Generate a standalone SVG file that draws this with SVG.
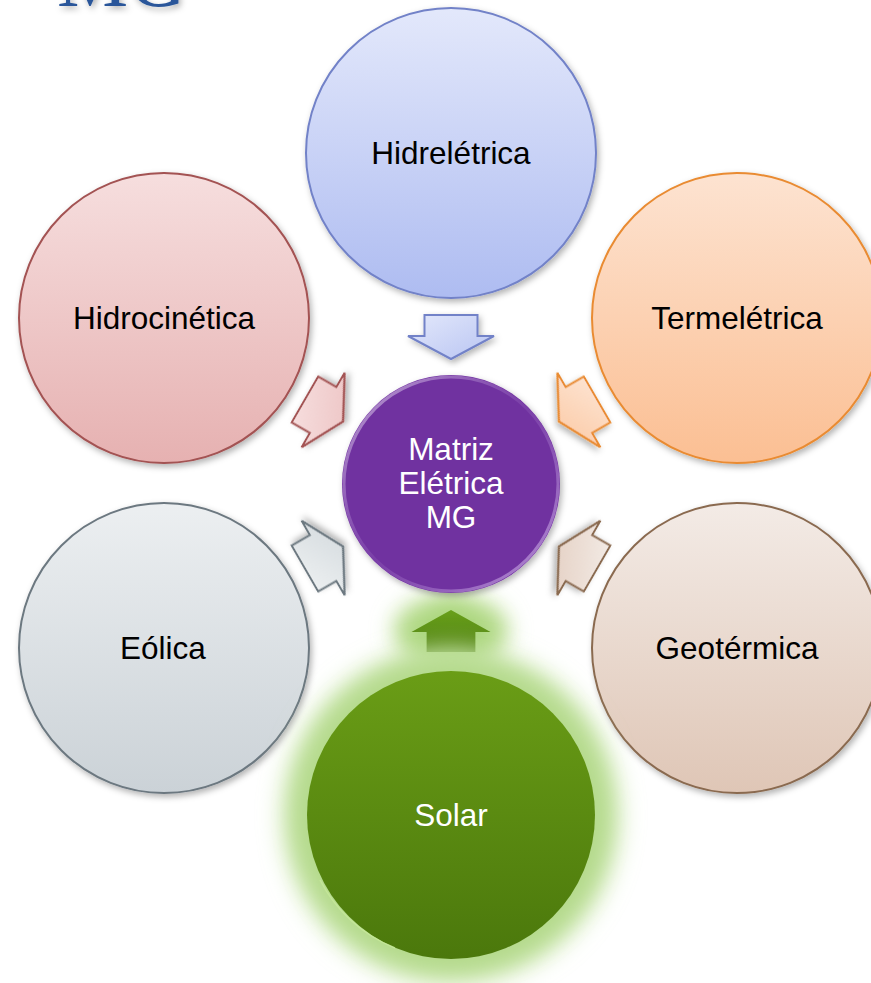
<svg xmlns="http://www.w3.org/2000/svg" width="871" height="983" viewBox="0 0 871 983">
<style>
.lbl{font-family:"Liberation Sans",Arial,sans-serif;font-size:31.5px;text-anchor:middle;fill:#000}
.wlbl{font-family:"Liberation Sans",Arial,sans-serif;font-size:31.5px;text-anchor:middle;fill:#fff}
.ring{stroke-width:2}
</style>
<defs>
<filter id="sh" x="-20%" y="-20%" width="140%" height="140%"><feDropShadow dx="2" dy="3" stdDeviation="3" flood-color="#000" flood-opacity="0.3"/></filter>
<filter id="glow" x="-50%" y="-50%" width="200%" height="200%"><feGaussianBlur stdDeviation="12"/></filter>
<filter id="glowA" x="-100%" y="-100%" width="300%" height="300%"><feGaussianBlur stdDeviation="11"/></filter>
<linearGradient id="gBlue" x1="0" y1="0" x2="0" y2="1"><stop offset="0" stop-color="#e3e8fb"/><stop offset="1" stop-color="#aebcf1"/></linearGradient>
<linearGradient id="gPink" x1="0" y1="0" x2="0" y2="1"><stop offset="0" stop-color="#f6dede"/><stop offset="1" stop-color="#e6b1b1"/></linearGradient>
<linearGradient id="gOrange" x1="0" y1="0" x2="0" y2="1"><stop offset="0" stop-color="#fde3d1"/><stop offset="1" stop-color="#fbbf93"/></linearGradient>
<linearGradient id="gGray" x1="0" y1="0" x2="0" y2="1"><stop offset="0" stop-color="#eceff1"/><stop offset="1" stop-color="#cbd2d7"/></linearGradient>
<linearGradient id="gBeige" x1="0" y1="0" x2="0" y2="1"><stop offset="0" stop-color="#f3ebe6"/><stop offset="1" stop-color="#dfc6b6"/></linearGradient>
<linearGradient id="gGreen" x1="0" y1="0" x2="0" y2="1"><stop offset="0" stop-color="#6a9d16"/><stop offset="1" stop-color="#4b780c"/></linearGradient>
<linearGradient id="gArrGreen" x1="0" y1="0" x2="0" y2="1"><stop offset="0" stop-color="#4d7d0e"/><stop offset="1" stop-color="#68a01a"/></linearGradient>
<linearGradient id="aBlue" x1="0" y1="0" x2="1" y2="1"><stop offset="0" stop-color="#e3e8fb"/><stop offset="1" stop-color="#b8c4f2"/></linearGradient>
<linearGradient id="aPink" x1="0" y1="0" x2="1" y2="1"><stop offset="0" stop-color="#f7e0e0"/><stop offset="1" stop-color="#ecc1c1"/></linearGradient>
<linearGradient id="aOrange" x1="0" y1="0" x2="1" y2="1"><stop offset="0" stop-color="#fde5d4"/><stop offset="1" stop-color="#fcc9a4"/></linearGradient>
<linearGradient id="aGray" x1="0" y1="0" x2="1" y2="1"><stop offset="0" stop-color="#eef1f2"/><stop offset="1" stop-color="#d3d9dd"/></linearGradient>
<linearGradient id="aBeige" x1="0" y1="0" x2="1" y2="1"><stop offset="0" stop-color="#f4ede8"/><stop offset="1" stop-color="#e2ccbe"/></linearGradient>
<linearGradient id="rim" x1="0" y1="0" x2="1" y2="1"><stop offset="0" stop-color="#ffffff" stop-opacity="0.6"/><stop offset="0.5" stop-color="#b48ad6" stop-opacity="0.15"/><stop offset="1" stop-color="#e0c8f5" stop-opacity="0.7"/></linearGradient>
<path id="arr" d="M -26.5,-22 L 26.5,-22 L 26.5,-1 L 43,-1 L 0,22 L -43,-1 L -26.5,-1 Z"/>
</defs>
<rect width="871" height="983" fill="#fff"/>

<text x="57" y="6" font-family="'Liberation Serif','Times New Roman',serif" font-size="80" fill="#2b579a" filter="url(#sh)">MG</text>

<g id="connectors" stroke-width="2" stroke-linejoin="miter">
  <use href="#arr" transform="translate(451,337)" fill="url(#aBlue)" stroke="#7282c8" filter="url(#sh)"/>
  <use href="#arr" transform="translate(324,410.5) rotate(-60)" fill="url(#aPink)" stroke="#a35252" filter="url(#sh)"/>
  <use href="#arr" transform="translate(578,410.5) rotate(60)" fill="url(#aOrange)" stroke="#e98b32" filter="url(#sh)"/>
  <use href="#arr" transform="translate(324,557.5) rotate(-120)" fill="url(#aGray)" stroke="#6c7880" filter="url(#sh)"/>
  <use href="#arr" transform="translate(578,557.5) rotate(120)" fill="url(#aBeige)" stroke="#8a6a50" filter="url(#sh)"/>
  <g transform="translate(451,631) rotate(180)">
    <ellipse cx="0" cy="0" rx="58" ry="38" fill="#bfe09a" filter="url(#glowA)"/>
    <use href="#arr" fill="#a9d57a" stroke="#a9d57a" stroke-width="14" filter="url(#glowA)"/>
    <use href="#arr" transform="scale(0.92,0.95)" fill="url(#gArrGreen)" stroke="none"/>
  </g>
</g>

<g id="hidreletrica">
  <circle class="ring" cx="451" cy="153" r="145" fill="url(#gBlue)" stroke="#7282c8" filter="url(#sh)"/>
  <text class="lbl" x="451" y="164">Hidrelétrica</text>
</g>
<g id="hidrocinetica">
  <circle class="ring" cx="164" cy="318" r="145" fill="url(#gPink)" stroke="#a35252" filter="url(#sh)"/>
  <text class="lbl" x="164" y="329">Hidrocinética</text>
</g>
<g id="termeletrica">
  <circle class="ring" cx="737" cy="318" r="145" fill="url(#gOrange)" stroke="#e98b32" filter="url(#sh)"/>
  <text class="lbl" x="737" y="329">Termelétrica</text>
</g>
<g id="eolica">
  <circle class="ring" cx="164" cy="648" r="145" fill="url(#gGray)" stroke="#6c7880" filter="url(#sh)"/>
  <text class="lbl" x="163" y="659">Eólica</text>
</g>
<g id="geotermica">
  <circle class="ring" cx="737" cy="648" r="145" fill="url(#gBeige)" stroke="#8a6a50" filter="url(#sh)"/>
  <text class="lbl" x="737" y="659">Geotérmica</text>
</g>
<g id="solar">
  <circle cx="451" cy="815" r="168" fill="#c2e2a0" filter="url(#glow)"/>
  <circle cx="451" cy="815" r="154" fill="#b3d98a" filter="url(#glowA)"/>
  <circle cx="451" cy="815" r="144" fill="url(#gGreen)"/>
  <path d="M 320,880 A 144,144 0 0 0 395,948" fill="none" stroke="#c7e89a" stroke-width="1.5" opacity="0.8"/>
  <text class="wlbl" x="451" y="826">Solar</text>
</g>
<g id="matriz">
  <circle cx="451" cy="484" r="109" fill="#7030a0" filter="url(#sh)"/>
  <circle cx="451" cy="484" r="107" fill="none" stroke="url(#rim)" stroke-width="3"/>
  <text class="wlbl" x="451" y="460">Matriz</text>
  <text class="wlbl" x="451" y="494">Elétrica</text>
  <text class="wlbl" x="451" y="528">MG</text>
</g>
</svg>
